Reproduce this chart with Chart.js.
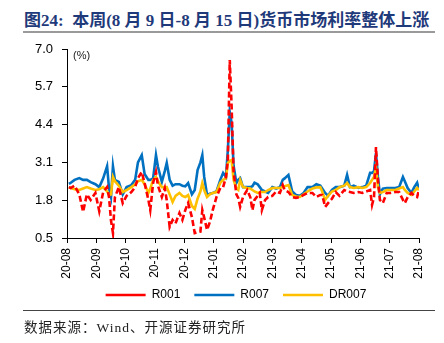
<!DOCTYPE html>
<html>
<head>
<meta charset="utf-8">
<script src="https://cdn.jsdelivr.net/npm/chart.js@4.4.1/dist/chart.umd.min.js"></script>
<style>
body { margin: 0; background: #fff; width: 444px; height: 343px; position: relative; overflow: hidden; }
#title { position: absolute; left: 24px; top: 6px; font: bold 17px "Liberation Serif", "Noto Sans CJK SC", serif; color: #1f3a7a; white-space: nowrap; }
#rule1 { position: absolute; left: 23px; top: 31px; width: 412px; height: 2px; background: #9a9a9a; }
#wrap { position: absolute; left: 0; top: 30px; width: 444px; height: 287px; }
#rule2 { position: absolute; left: 23px; top: 310px; width: 412px; height: 1px; background: #444; z-index: 2; }
#source { position: absolute; left: 24px; top: 316px; font: 13.5px "Liberation Serif", "Noto Sans CJK SC", serif; letter-spacing: 1px; color: #222; white-space: nowrap; z-index: 2; }
</style>
</head>
<body>
<div id="title">图24:&nbsp; 本周(8 月 9 日-8 月 15 日)货币市场利率整体上涨</div>
<div id="rule1"></div>
<div id="wrap"><canvas id="chart"></canvas></div>
<div id="rule2"></div>
<div id="source">数据来源：Wind、开源证券研究所</div>
<script>
// 日期（近似读取）
const dates = [
    '2020-08-03', '2020-08-05', '2020-08-09', '2020-08-14', '2020-08-18', '2020-08-22', '2020-08-26', '2020-08-31',
    '2020-09-04', '2020-09-08', '2020-09-12', '2020-09-14', '2020-09-16', '2020-09-18', '2020-09-20', '2020-09-24', '2020-09-28',
    '2020-10-02', '2020-10-07', '2020-10-11', '2020-10-14', '2020-10-18', '2020-10-21', '2020-10-25', '2020-10-27', '2020-10-30',
    '2020-11-02', '2020-11-04', '2020-11-08', '2020-11-11', '2020-11-13', '2020-11-16', '2020-11-19', '2020-11-22', '2020-11-26', '2020-11-29',
    '2020-12-02', '2020-12-05', '2020-12-09', '2020-12-12', '2020-12-15', '2020-12-18', '2020-12-20', '2020-12-22', '2020-12-25', '2020-12-28', '2020-12-31',
    '2021-01-04', '2021-01-08', '2021-01-11', '2021-01-14', '2021-01-16', '2021-01-18', '2021-01-20', '2021-01-22', '2021-01-25', '2021-01-27', '2021-01-29',
    '2021-02-01', '2021-02-05', '2021-02-08', '2021-02-10', '2021-02-12', '2021-02-15', '2021-02-17', '2021-02-19', '2021-02-22', '2021-02-25',
    '2021-03-01', '2021-03-05', '2021-03-09', '2021-03-12', '2021-03-14', '2021-03-18', '2021-03-22', '2021-03-26', '2021-03-30',
    '2021-04-03', '2021-04-07', '2021-04-12', '2021-04-16', '2021-04-20', '2021-04-22', '2021-04-25', '2021-04-28',
    '2021-05-02', '2021-05-06', '2021-05-10', '2021-05-15', '2021-05-18', '2021-05-21', '2021-05-25', '2021-05-30',
    '2021-06-03', '2021-06-07', '2021-06-11', '2021-06-13', '2021-06-15', '2021-06-17', '2021-06-19', '2021-06-21', '2021-06-24', '2021-06-28',
    '2021-07-02', '2021-07-07', '2021-07-11', '2021-07-15', '2021-07-17', '2021-07-20', '2021-07-24', '2021-07-27', '2021-07-30', '2021-08-01'
];

const r001 = [
    2.25, 2.22, 2.30, 2.00, 1.40, 2.00, 1.81, 2.05,
    1.42, 2.08, 2.25, 1.90, 1.10, 0.67, 1.90, 2.25, 1.70,
    1.95, 2.08, 2.25, 2.56, 2.77, 2.39, 1.81, 1.46, 2.39,
    2.77, 2.30, 1.91, 2.22, 1.80, 0.88, 1.12, 1.00, 1.36, 1.12,
    1.46, 1.70, 1.22, 0.67, 0.70, 0.72, 1.46, 1.20, 0.78, 1.05, 1.46,
    1.91, 2.22, 2.25, 2.60, 3.20, 6.62, 5.00, 2.80, 2.00, 1.88, 1.57,
    1.91, 2.15, 1.90, 1.46, 1.81, 1.95, 2.05, 1.46, 1.80, 1.91,
    1.95, 2.10, 2.05, 2.32, 2.15, 2.08, 1.91, 1.88, 1.91,
    1.98, 2.05, 2.05, 1.91, 1.98, 1.98, 1.57, 1.70,
    1.85, 2.08, 1.95, 2.15, 2.10, 2.08, 2.05, 2.08,
    2.05, 2.10, 2.15, 1.64, 1.91, 3.63, 2.50, 1.81, 1.70, 2.05,
    2.05, 2.08, 2.08, 1.81, 1.70, 1.90, 2.05, 1.95, 1.91, 2.15
];

const r007 = [
    2.36, 2.40, 2.50, 2.56, 2.50, 2.50, 2.42, 2.35,
    2.25, 2.55, 2.97, 2.20, 1.91, 2.97, 2.50, 2.43, 2.00,
    2.25, 2.32, 2.50, 3.10, 3.35, 2.70, 2.50, 2.50, 2.55,
    3.35, 2.95, 2.43, 2.80, 3.08, 2.50, 2.30, 2.35, 2.35, 2.30,
    2.28, 2.39, 2.00, 2.15, 2.84, 3.10, 3.35, 2.60, 1.98, 2.02, 2.05,
    2.10, 2.50, 2.74, 2.60, 3.53, 4.83, 4.45, 3.00, 2.39, 2.50, 2.56,
    2.25, 2.25, 2.25, 2.28, 2.40, 2.35, 2.25, 2.15, 2.10, 2.05,
    2.25, 2.20, 2.25, 2.50, 2.55, 2.67, 2.10, 1.98, 1.95,
    2.05, 2.25, 2.25, 2.35, 2.30, 2.20, 2.05, 1.95,
    2.15, 2.25, 2.25, 2.30, 2.67, 2.25, 2.30, 2.22,
    2.25, 2.30, 2.74, 2.74, 2.80, 3.42, 2.60, 2.00, 2.20, 2.22,
    2.22, 2.22, 2.25, 2.60, 2.45, 2.22, 2.05, 2.25, 2.40, 2.15
];

const dr007 = [
    2.25, 2.22, 2.18, 2.15, 2.20, 2.25, 2.20, 2.15,
    2.18, 2.25, 2.10, 1.98, 2.00, 2.60, 2.45, 2.30, 2.08,
    2.15, 2.25, 2.35, 2.45, 2.50, 2.35, 2.05, 2.20, 2.50,
    2.60, 2.45, 2.25, 2.25, 2.25, 2.00, 1.74, 1.95, 2.05, 1.95,
    1.91, 1.98, 1.60, 1.50, 1.85, 2.10, 2.39, 2.15, 1.91, 2.00, 2.05,
    2.08, 2.40, 2.50, 2.55, 3.08, 3.15, 3.18, 2.50, 2.20, 2.15, 2.50,
    2.25, 2.22, 2.20, 2.15, 2.10, 2.05, 2.07, 2.08, 2.08, 2.15,
    2.22, 2.22, 2.22, 2.25, 2.28, 2.32, 1.98, 1.93, 1.91,
    2.00, 2.10, 2.20, 2.24, 2.25, 2.10, 1.81, 1.95,
    2.10, 2.15, 2.25, 2.30, 2.39, 2.25, 2.22, 2.25,
    2.22, 2.25, 2.39, 2.50, 2.60, 2.94, 2.25, 2.05, 2.08, 2.15,
    2.15, 2.15, 2.20, 2.25, 2.15, 2.05, 1.98, 2.10, 2.22, 2.15
];

const monthLabels = ['20-08', '20-09', '20-10', '20-11', '20-12', '21-01', '21-02',
    '21-03', '21-04', '21-05', '21-06', '21-07', '21-08'];
const yTicks = [0.5, 1.8, 3.1, 4.4, 5.7, 7.0];

// fecha -> posición en meses desde 2020-08
function monthPos(d) {
    const [y, m, day] = d.split('-').map(Number);
    const dim = new Date(y, m, 0).getDate();
    return (y - 2020) * 12 + (m - 8) + (day - 1) / dim;
}
const toPoints = vals => vals.map((v, i) => ({ x: monthPos(dates[i]), y: v }));

const font = { family: '"Liberation Sans", Arial, sans-serif' };

// "(%)" dentro del área + leyenda desplazada
const extras = {
    id: 'extras',
    afterLayout(chart) {
        const lg = chart.legend;
        if (lg) {
            lg.left = 53;
            lg.top -= 6;
            lg.bottom -= 6;
        }
    },
    afterDraw(chart) {
        const { ctx, chartArea } = chart;
        ctx.save();
        ctx.font = '11px "Liberation Sans", Arial, sans-serif';
        ctx.fillStyle = '#222';
        ctx.textBaseline = 'top';
        ctx.fillText('(%)', chartArea.left + 6, chartArea.top + 1);
        ctx.restore();
    }
};

new Chart(document.getElementById('chart'), {
    type: 'line',
    data: {
        datasets: [
            {
                label: 'R001', data: toPoints(r001), borderColor: '#ff0000', backgroundColor: '#ff0000',
                borderWidth: 2.6, borderDash: [6, 3], pointRadius: 0, pointStyle: 'line', order: 0
            },
            {
                label: 'R007', data: toPoints(r007), borderColor: '#0070c0', backgroundColor: '#0070c0',
                borderWidth: 2.6, pointRadius: 0, pointStyle: 'line', order: 2
            },
            {
                label: 'DR007', data: toPoints(dr007), borderColor: '#ffc000', backgroundColor: '#ffc000',
                borderWidth: 2.6, pointRadius: 0, pointStyle: 'line', order: 1
            }
        ]
    },
    options: {
        responsive: true,
        maintainAspectRatio: false,
        animation: false,
        layout: { padding: { left: 0, right: 25, top: 19, bottom: 0 } },
        scales: {
            x: {
                type: 'linear', min: 0, max: 12,
                afterBuildTicks: scale => { scale.ticks = monthLabels.map((_, i) => ({ value: i })); },
                afterFit: scale => { scale.height = 43; },
                grid: { drawOnChartArea: false, drawTicks: true, tickLength: 5, color: '#000' },
                border: { color: '#000', width: 1 },
                ticks: {
                    autoSkip: false, maxRotation: 90, minRotation: 90, padding: 5,
                    color: '#000', font: { ...font, size: 12 },
                    callback: v => monthLabels[v]
                }
            },
            y: {
                min: 0.5, max: 7.0,
                afterBuildTicks: scale => { scale.ticks = yTicks.map(v => ({ value: v })); },
                afterFit: scale => { scale.width = 67; },
                grid: { drawOnChartArea: false, drawTicks: true, tickLength: 5, color: '#000' },
                border: { color: '#000', width: 1 },
                ticks: {
                    padding: 9, color: '#000', font: { ...font, size: 13 },
                    callback: v => v.toFixed(1)
                }
            }
        },
        plugins: {
            legend: {
                position: 'bottom',
                labels: {
                    usePointStyle: true, pointStyleWidth: 40, padding: 14,
                    color: '#000', font: { ...font, size: 12 },
                    sort: (a, b) => a.datasetIndex - b.datasetIndex
                }
            },
            tooltip: { enabled: false }
        }
    },
    plugins: [extras]
});
</script>
</body>
</html>
